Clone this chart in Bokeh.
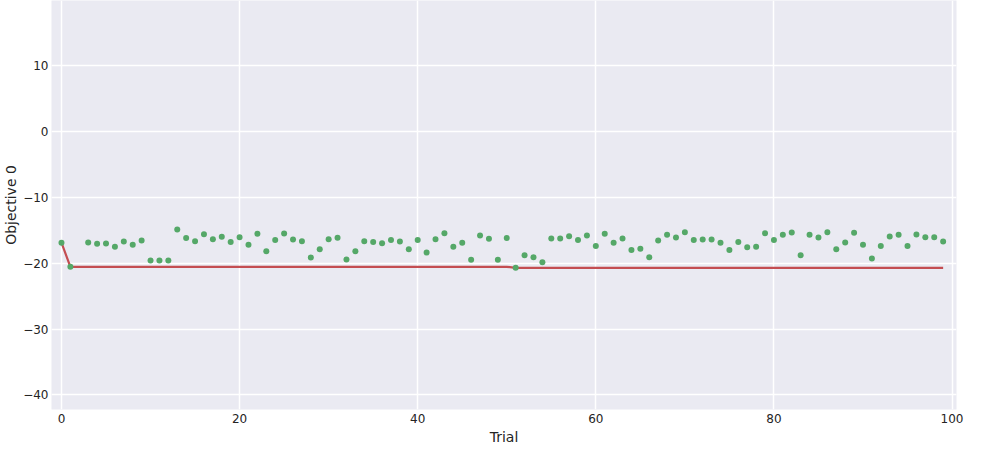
import numpy as np
from bokeh.plotting import figure
from bokeh.models import ColumnDataSource, Range1d, FixedTicker, CustomJSTickFormatter
from bokeh.embed import file_html
from bokeh.resources import INLINE

# ---- data ----
trials = [0, 1] + list(range(3, 100))
objective_values = [
    -16.9, -20.55,
    -16.87, -17.07, -17.0, -17.5, -16.7, -17.2, -16.57, -19.6,
    -19.6, -19.6, -14.9, -16.2, -16.67, -15.6, -16.36, -16.0, -16.77, -16.06,
    -17.2, -15.55, -18.2, -16.5, -15.5, -16.4, -16.67, -19.14, -17.9, -16.36,
    -16.16, -19.45, -18.2, -16.67, -16.77, -16.97, -16.5, -16.7, -17.9, -16.5,
    -18.4, -16.36, -15.45, -17.5, -16.9, -19.5, -15.8, -16.3, -19.5, -16.2,
    -20.7, -18.8, -19.1, -19.85, -16.26, -16.26, -15.9, -16.5, -15.8, -17.4,
    -15.55, -16.9, -16.26, -18.0, -17.8, -19.1, -16.56, -15.7, -16.1, -15.3,
    -16.5, -16.4, -16.4, -16.9, -18.0, -16.77, -17.6, -17.5, -15.45, -16.5,
    -15.7, -15.35, -18.8, -15.7, -16.1, -15.3, -17.9, -16.87, -15.4, -17.2,
    -19.3, -17.4, -15.96, -15.7, -17.4, -15.65, -16.06, -16.06, -16.7,
]
best_values = list(np.minimum.accumulate(objective_values))

x_ticks = [0, 20, 40, 60, 80, 100]
y_ticks = [-40, -30, -20, -10, 0, 10]

FONT = "DejaVu Sans"
TEXT = "#242424"
GREEN = "#55A868"
RED = "#C44E52"
BG = "#EAEAF2"

src_pts = ColumnDataSource(dict(x=trials, y=objective_values))
src_best = ColumnDataSource(dict(x=trials, y=best_values))

p = figure(
    width=990, height=450,
    x_range=Range1d(-1.12, 100.5), y_range=Range1d(-42.2, 19.85),
    output_backend="svg", toolbar_location=None,
    min_border_left=51, min_border_right=34, min_border_top=0, min_border_bottom=41,
    background_fill_color=BG, border_fill_color="white",
)
p.outline_line_color = None

p.line("x", "y", source=src_best, line_color=RED, line_width=2.2)
p.scatter("x", "y", source=src_pts, size=6, fill_color=GREEN, line_color=None)

for ax in (p.xaxis, p.yaxis):
    ax.axis_line_color = None
    ax.major_tick_line_color = None
    ax.minor_tick_line_color = None
    ax.major_tick_out = 0
    ax.major_tick_in = 0
    ax.major_label_text_font = FONT
    ax.major_label_text_font_size = "12px"
    ax.major_label_text_color = TEXT
    ax.axis_label_text_font = FONT
    ax.axis_label_text_font_size = "14px"
    ax.axis_label_text_font_style = "normal"
    ax.axis_label_text_color = TEXT

p.xaxis.ticker = FixedTicker(ticks=x_ticks)
p.yaxis.ticker = FixedTicker(ticks=y_ticks)
p.xaxis.major_label_standoff = 4
p.yaxis.major_label_standoff = 3
p.xaxis.axis_label = "Trial"
p.yaxis.axis_label = "Objective 0"
p.xaxis.axis_label_standoff = 3
p.yaxis.axis_label_standoff = 1

fmt = CustomJSTickFormatter(code="return (tick < 0 ? '\u2212' : '') + Math.abs(tick).toString();")
p.xaxis.formatter = fmt
p.yaxis.formatter = fmt

p.xgrid.ticker = FixedTicker(ticks=x_ticks)
p.ygrid.ticker = FixedTicker(ticks=y_ticks)
p.grid.grid_line_color = "white"
p.grid.grid_line_width = 1.5

open("out.html", "w").write(file_html(p, INLINE))
